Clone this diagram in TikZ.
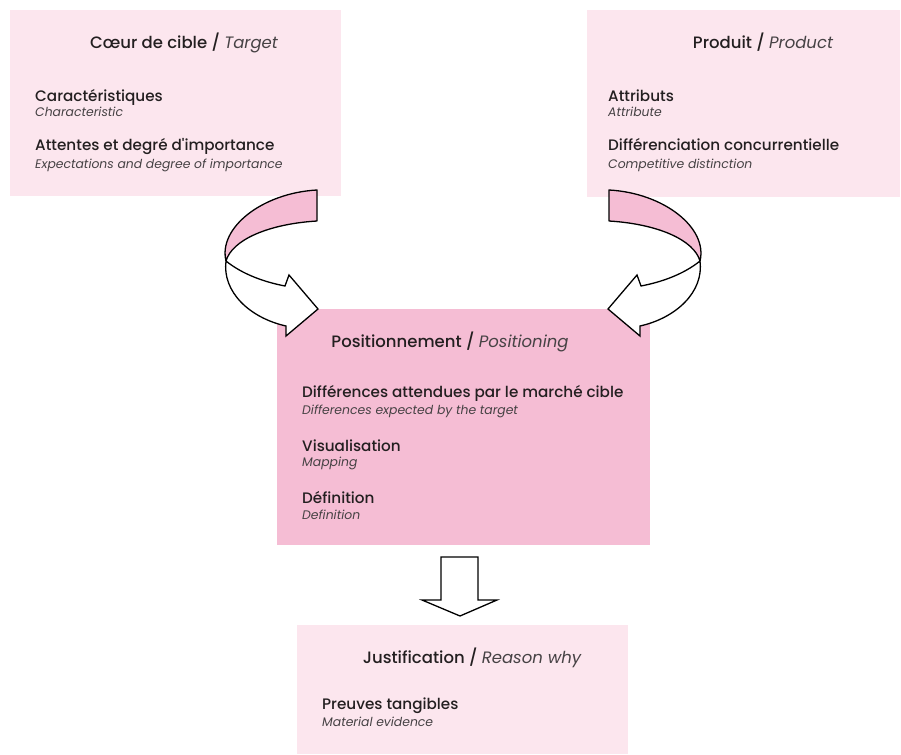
\documentclass[tikz,border=0pt]{standalone}
\usepackage{fontspec}
\setmainfont{Poppins}
\newfontfamily\headfont{Poppins Medium}
\usepackage{tikz}
\usetikzlibrary{positioning}
\definecolor{mkpale}{RGB}{252,230,238}
\definecolor{mkpink}{RGB}{245,189,212}
\definecolor{mktext}{RGB}{35,31,32}
\definecolor{mkgrey}{RGB}{70,66,68}
\newcommand{\en}[1]{{\normalfont\itshape\color{mkgrey}#1}}
\tikzstyle{panel} = [fill=mkpale, draw=none, inner sep=0pt, anchor=north west]
\tikzstyle{title} = [font=\headfont\fontsize{16.5}{18}\selectfont, color=mktext, anchor=base, inner sep=0pt]
\tikzstyle{head} = [font=\headfont\fontsize{15.2}{17}\selectfont, color=mktext, anchor=base west, inner sep=0pt]
\tikzstyle{sub} = [font=\itshape\fontsize{12.4}{14}\selectfont, color=mkgrey, anchor=base west, inner sep=0pt]
\tikzstyle{band} = [draw=black, line width=1.3pt, line join=round, fill=mkpink]
\tikzstyle{block} = [draw=black, line width=1.3pt, line join=miter, fill=white]

\begin{document}
\begin{tikzpicture}[x=1pt, y=-1pt]
\useasboundingbox (0,0) rectangle (901,754);

% Boxes
\node[panel, minimum width=331pt, minimum height=186pt] (target) at (10,10) {};
\node[panel, minimum width=313pt, minimum height=187pt] (product) at (587,10) {};
\node[panel, fill=mkpink, minimum width=373pt, minimum height=236pt] (position) at (277,309) {};
\node[panel, minimum width=331pt, minimum height=129pt] (reason) at (297,625) {};

% Target
\node[title] (targettitle) at (184,49) {Cœur de cible / \en{Target}};
\node[head] (targeta) at (35,102) {Caractéristiques};
\node[sub] (targetb) at (35,117) {Characteristic};
\node[head] (targetc) at (35,150) {Attentes et degré d'importance};
\node[sub] (targetd) at (35,168) {Expectations and degree of importance};

% Product
\node[title] (producttitle) at (763,49) {Produit / \en{Product}};
\node[head] (producta) at (608,102) {Attributs};
\node[sub] (productb) at (608,117) {Attribute};
\node[head] (productc) at (608,150) {Différenciation concurrentielle};
\node[sub] (productd) at (608,168) {Competitive distinction};

% Positioning
\node[title] (positiontitle) at (450,347) {Positionnement / \en{Positioning}};
\node[head] (positiona) at (302,397) {Différences attendues par le marché cible};
\node[sub] (positionb) at (302,414) {Differences expected by the target};
\node[head] (positionc) at (302,451) {Visualisation};
\node[sub] (positiond) at (302,466) {Mapping};
\node[head] (positione) at (302,503) {Définition};
\node[sub] (positionf) at (302,519) {Definition};

% Reason why
\node[title] (reasontitle) at (472,663) {Justification / \en{Reason why}};
\node[head] (reasona) at (322,709) {Preuves tangibles};
\node[sub] (reasonb) at (322,726) {Material evidence};

% Curled arrows
\foreach \flip/\move in {1/0, -1/926} {
  \begin{scope}[shift={(\move,0)}, xscale=\flip]
    \draw[band] (317,190) -- (317,221) .. controls (268,224) and (232,240) .. (226,261)
      .. controls (218,228) and (262,193) .. cycle;
    \draw[block] (226,261) .. controls (242,274) and (264,282) .. (285,286) -- (289,275)
      -- (318,309) -- (286,336) -- (286,326) .. controls (250,318) and (222,292) .. cycle;
  \end{scope}
}

% Down arrow
\draw[block] (441,557) -- (478,557) -- (478,600) -- (497,600) -- (460,616) -- (422,600) -- (441,600) -- cycle;
\end{tikzpicture}
\end{document}
